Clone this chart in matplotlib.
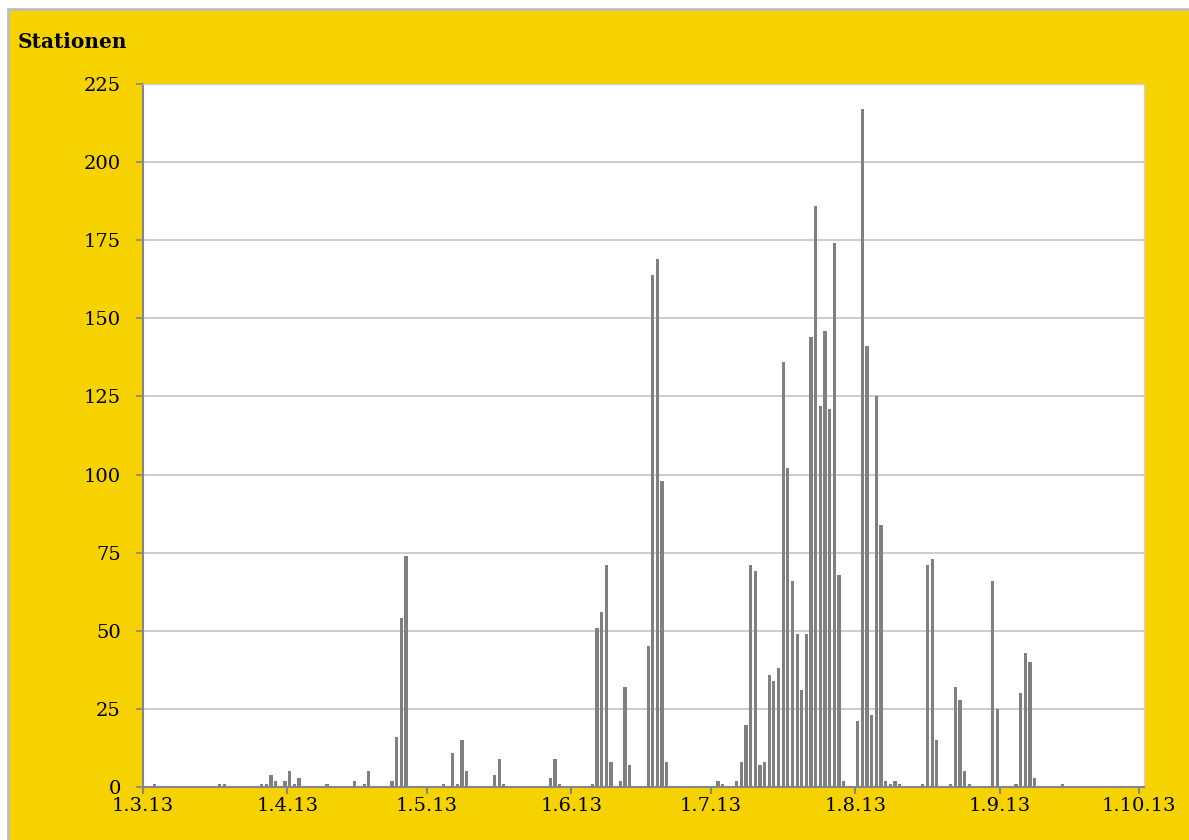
#!/usr/bin/env python3
"""
Stationen pro Tag, 1.3.13 - 1.10.13 (Balkendiagramm)
"""

import matplotlib
matplotlib.use("Agg")
import matplotlib.pyplot as plt
import matplotlib.dates as mdates
from matplotlib.patches import Rectangle
from matplotlib.ticker import FuncFormatter, MultipleLocator
import pandas as pd

# Tage mit Werten (alle anderen Tage = 0)
dates = [
    "2013-03-03", "2013-03-17", "2013-03-18", "2013-03-26", "2013-03-27",
    "2013-03-28", "2013-03-29", "2013-03-31", "2013-04-01", "2013-04-02",
    "2013-04-03", "2013-04-09", "2013-04-15", "2013-04-17", "2013-04-18",
    "2013-04-23", "2013-04-24", "2013-04-25", "2013-04-26",
    "2013-05-04", "2013-05-06", "2013-05-07", "2013-05-08", "2013-05-09",
    "2013-05-15", "2013-05-16", "2013-05-17", "2013-05-27", "2013-05-28",
    "2013-05-29",
    "2013-06-05", "2013-06-06", "2013-06-07", "2013-06-08", "2013-06-09",
    "2013-06-11", "2013-06-12", "2013-06-13", "2013-06-17", "2013-06-18",
    "2013-06-19", "2013-06-20", "2013-06-21",
    "2013-07-02", "2013-07-03", "2013-07-06", "2013-07-07", "2013-07-08",
    "2013-07-09", "2013-07-10", "2013-07-11", "2013-07-12", "2013-07-13",
    "2013-07-14", "2013-07-15", "2013-07-16", "2013-07-17", "2013-07-18",
    "2013-07-19", "2013-07-20", "2013-07-21", "2013-07-22", "2013-07-23",
    "2013-07-24", "2013-07-25", "2013-07-26", "2013-07-27", "2013-07-28",
    "2013-07-29",
    "2013-08-01", "2013-08-02", "2013-08-03", "2013-08-04", "2013-08-05",
    "2013-08-06", "2013-08-07", "2013-08-08", "2013-08-09", "2013-08-10",
    "2013-08-15", "2013-08-16", "2013-08-17", "2013-08-18", "2013-08-21",
    "2013-08-22", "2013-08-23", "2013-08-24", "2013-08-25", "2013-08-30",
    "2013-08-31",
    "2013-09-04", "2013-09-05", "2013-09-06", "2013-09-07", "2013-09-08",
    "2013-09-14",
]
stations = [
    1, 1, 1, 1, 1,
    4, 2, 2, 5, 1,
    3, 1, 2, 1, 5,
    2, 16, 54, 74,
    1, 11, 1, 15, 5,
    4, 9, 1, 3, 9,
    1,
    1, 51, 56, 71, 8,
    2, 32, 7, 45, 164,
    169, 98, 8,
    2, 1, 2, 8, 20,
    71, 69, 7, 8, 36,
    34, 38, 136, 102, 66,
    49, 31, 49, 144, 186,
    122, 146, 121, 174, 68,
    2,
    21, 217, 141, 23, 125,
    84, 2, 1, 2, 1,
    1, 71, 73, 15, 1,
    32, 28, 5, 1, 66,
    25,
    1, 30, 43, 40, 3,
    1,
]

x_start = "2013-03-01"
x_end = "2013-10-02"   # ein Tag Luft hinter dem letzten Tick
y_max = 225
y_step = 25
y_title = "Stationen"

YELLOW = "#F5D200"
BAR = "#808080"
AXIS = "#868686"
GRID = "#C4C4C4"


def main():
    plt.rcParams["font.family"] = ["DejaVu Serif"]

    fig = plt.figure(figsize=(11.89, 8.40), dpi=100)
    fig.patch.set_facecolor("white")

    # gelber Rahmen mit grauer Kante (unter den Achsen)
    fig.patches.append(Rectangle((8 / 1189, -0.05), 1.1, 1.05 - 9 / 840,
                                 transform=fig.transFigure, facecolor=YELLOW,
                                 edgecolor="#BDBDBD", linewidth=2, zorder=-10))

    ax = fig.add_axes([143 / 1189, 53 / 840, 1001 / 1189, 703 / 840])
    ax.set_zorder(5)
    ax.set_facecolor("white")

    # Balken mittig im Tages-Slot
    days = pd.to_datetime(dates) + pd.Timedelta(hours=12)
    ax.bar(days, stations, width=0.7, color=BAR, linewidth=0, zorder=3)

    ax.set_xlim(pd.Timestamp(x_start), pd.Timestamp(x_end))
    ax.set_ylim(0, y_max)

    ax.xaxis.set_major_locator(mdates.MonthLocator())
    ax.xaxis.set_major_formatter(FuncFormatter(
        lambda v, pos: (lambda d: f"{d.day}.{d.month}.{d.year % 100}")(mdates.num2date(v))))
    ax.yaxis.set_major_locator(MultipleLocator(y_step))

    ax.grid(axis="y", color=GRID, linewidth=1.2, zorder=0)
    ax.set_axisbelow(True)

    for side in ("left", "bottom"):
        ax.spines[side].set_color(AXIS)
        ax.spines[side].set_linewidth(1.5)
    for side in ("top", "right"):
        ax.spines[side].set_color("#D0D0D0")
        ax.spines[side].set_linewidth(1)

    ax.tick_params(axis="y", direction="out", length=5, width=1.2, color=AXIS,
                   labelsize=14, pad=11, labelcolor="black")
    ax.tick_params(axis="x", direction="out", length=5, width=1.5, color=AXIS,
                   labelsize=14, pad=2, labelcolor="black")

    fig.text(18 / 1189, 1 - 42 / 840, y_title, fontsize=14.5, fontweight="bold",
             ha="left", va="center")

    fig.savefig("out.png", dpi=100, facecolor=fig.get_facecolor())
    plt.close(fig)


if __name__ == "__main__":
    main()
